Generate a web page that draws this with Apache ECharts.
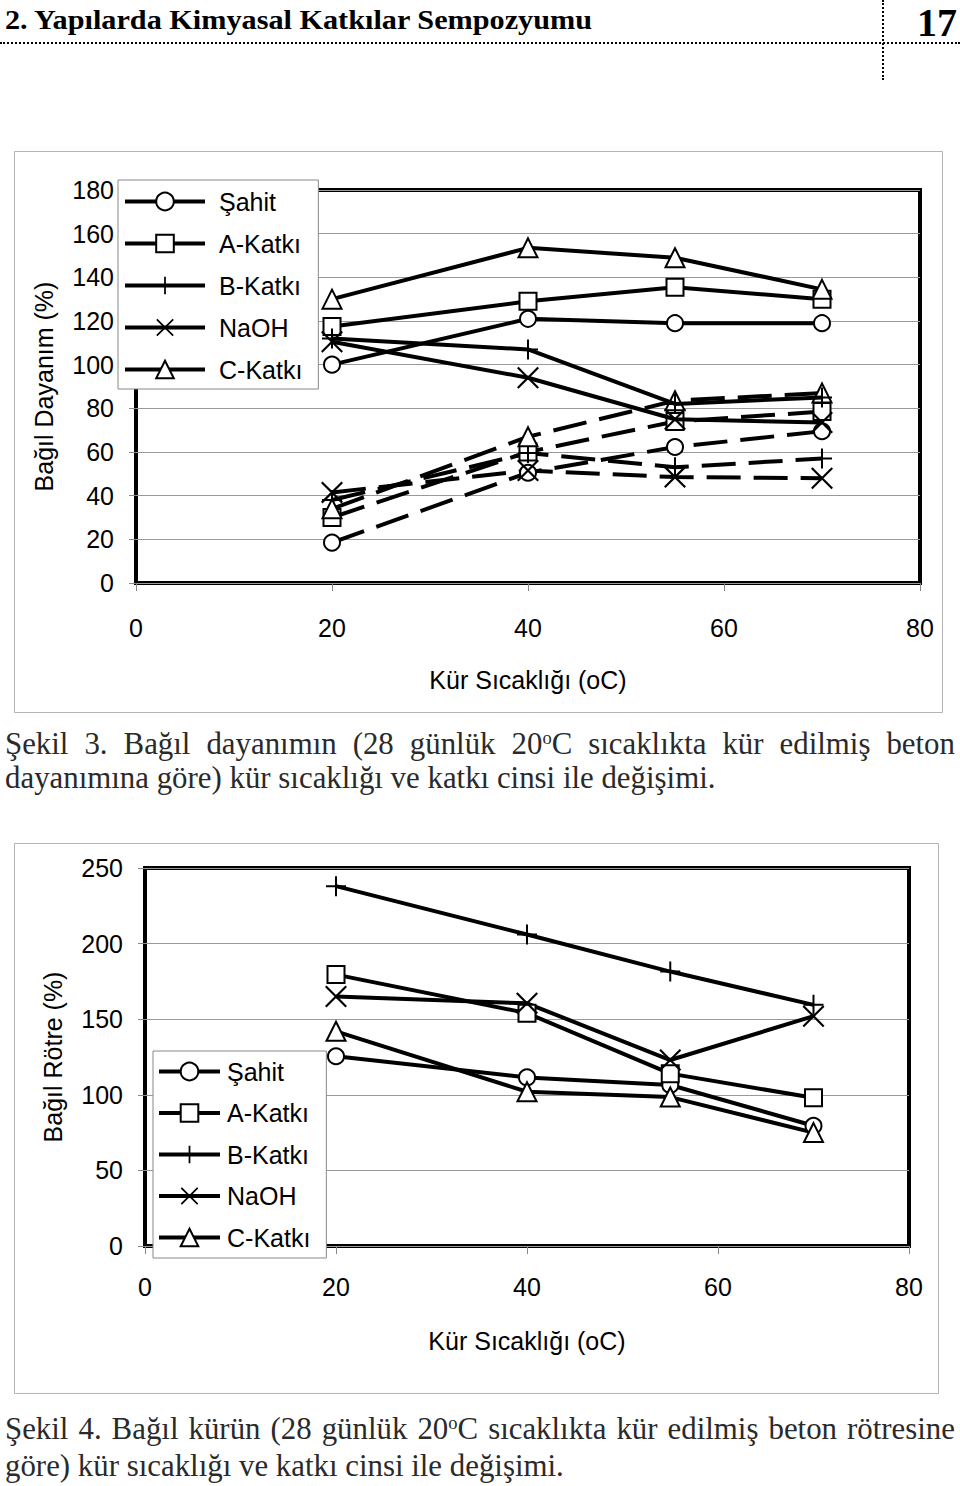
<!DOCTYPE html>
<html><head><meta charset="utf-8">
<script src="https://cdn.jsdelivr.net/npm/echarts/dist/echarts.min.js"></script>
<style>
html,body{margin:0;padding:0;background:#fff;}
#wrap{position:relative;width:960px;height:1486px;overflow:hidden;background:#fff;}
#chart{position:absolute;left:0;top:0;width:960px;height:1486px;}
.hdr{position:absolute;left:5px;top:6px;font-family:"Liberation Serif","DejaVu Serif",serif;font-weight:bold;font-size:28px;line-height:28px;white-space:nowrap;transform-origin:0 0;color:#000;}
.pg{position:absolute;right:3px;top:3px;font-family:"Liberation Serif","DejaVu Serif",serif;font-weight:bold;font-size:40px;line-height:40px;color:#000;}
.hdot{position:absolute;left:0;top:42px;width:960px;border-top:2px dotted #000;}
.vdot{position:absolute;left:882px;top:0;height:80px;border-left:2px dotted #000;}
.cap{position:absolute;left:5px;font-family:"Liberation Serif","DejaVu Serif",serif;color:#2a2a2a;}
.just{width:950px;text-align:justify;text-align-last:justify;}
.nat{white-space:nowrap;}
sup{font-size:0.6em;line-height:0;vertical-align:0.55em;}
</style>
</head>
<body>
<div id="wrap">
  <div id="chart"></div>
  <div class="hdr" id="hdr">2. Yapılarda Kimyasal Katkılar Sempozyumu</div>
  <div class="pg">17</div>
  <div class="hdot"></div>
  <div class="vdot"></div>
  <div class="cap just" id="c1a">Şekil 3. Bağıl dayanımın (28 günlük 20<sup>o</sup>C sıcaklıkta kür edilmiş beton</div>
  <div class="cap nat" id="c1b">dayanımına göre) kür sıcaklığı ve katkı cinsi ile değişimi.</div>
  <div class="cap just" id="c2a">Şekil 4. Bağıl kürün (28 günlük 20<sup>o</sup>C sıcaklıkta kür edilmiş beton rötresine</div>
  <div class="cap nat" id="c2b">göre) kür sıcaklığı ve katkı cinsi ile değişimi.</div>
</div>
<script>
// ---------- DATA ----------
const xTemps = [20, 40, 55, 70];
const seriesNames = ['Şahit', 'A-Katkı', 'B-Katkı', 'NaOH', 'C-Katkı'];
const xTicks = [0, 20, 40, 60, 80];
const fig3YTicks = [0, 20, 40, 60, 80, 100, 120, 140, 160, 180];
const fig4YTicks = [0, 50, 100, 150, 200, 250];

// Figure 3 - solid lines
const fig3SahitSolid = [100, 121, 119, 119];
const fig3AKatkiSolid = [117.5, 129, 135.5, 130];
const fig3BKatkiSolid = [112, 107, 82, 85];
const fig3NaohSolid = [110.5, 94, 75, 73.5];
const fig3CKatkiSolid = [130, 153.5, 149, 134.5];
// Figure 3 - dashed lines
const fig3SahitDashed = [18.5, 50.5, 62.3, 69.5];
const fig3AKatkiDashed = [30, 60, 74, 78.5];
const fig3BKatkiDashed = [38, 59.5, 53, 57];
const fig3NaohDashed = [41.5, 51.5, 48.5, 48];
const fig3CKatkiDashed = [34, 67, 83.5, 87];

// Figure 4
const fig4Sahit = [125.5, 111.5, 106.5, 79.5];
const fig4AKatki = [179.5, 154, 114, 98];
const fig4BKatki = [238, 206, 181.5, 159.5];
const fig4Naoh = [165, 160.5, 123, 152];
const fig4CKatki = [142, 102, 98.5, 75];

// ---------- STYLE ----------
const PLUS = 'path://M-1,-10L1,-10L1,10L-1,10Z M-10,-1L10,-1L10,1L-10,1Z';
const CROSS = 'path://M-10,-8.6L-8.6,-10L10,8.6L8.6,10Z M8.6,-10L10,-8.6L-8.6,10L-10,8.6Z';
const symbolDefs = [
  {symbol: 'circle', size: 16, hollow: true},
  {symbol: 'rect', size: 17, hollow: true},
  {symbol: PLUS, size: 20, hollow: false},
  {symbol: CROSS, size: 22, hollow: false},
  {symbol: 'triangle', size: 19, hollow: true}
];
const FONT = '"Liberation Sans", Arial, sans-serif';

function mkSeries(name, values, idx, gi, dashed) {
  const s = symbolDefs[idx];
  return {
    type: 'line', name: name, xAxisIndex: gi, yAxisIndex: gi,
    data: xTemps.map((x, i) => [x, values[i]]),
    symbol: s.symbol, symbolSize: s.size, showSymbol: true,
    lineStyle: {color: '#000', width: 4, type: dashed ? [34, 13] : 'solid'},
    itemStyle: s.hollow ? {color: '#fff', borderColor: '#000', borderWidth: 2}
                        : {color: '#000', borderColor: '#000', borderWidth: 0},
    emphasis: {disabled: true}, silent: true, z: dashed ? 2 : 3
  };
}

const fig3Solid = [fig3SahitSolid, fig3AKatkiSolid, fig3BKatkiSolid, fig3NaohSolid, fig3CKatkiSolid];
const fig3Dashed = [fig3SahitDashed, fig3AKatkiDashed, fig3BKatkiDashed, fig3NaohDashed, fig3CKatkiDashed];
const fig4 = [fig4Sahit, fig4AKatki, fig4BKatki, fig4Naoh, fig4CKatki];

const series = [];
seriesNames.forEach((n, i) => series.push(mkSeries(n, fig3Solid[i], i, 0, false)));
seriesNames.forEach((n, i) => series.push(mkSeries(n + ' (kesikli)', fig3Dashed[i], i, 0, true)));
seriesNames.forEach((n, i) => series.push(mkSeries(n, fig4[i], i, 1, false)));

function xAxisCfg(gi, labelMargin, nameGap) {
  return {
    gridIndex: gi, type: 'value', min: xTicks[0], max: xTicks[xTicks.length - 1],
    interval: xTicks[1] - xTicks[0],
    name: 'Kür Sıcaklığı (oC)', nameLocation: 'middle', nameGap: nameGap,
    nameTextStyle: {fontFamily: FONT, fontSize: 25, color: '#000', verticalAlign: 'top'},
    axisLine: {show: false},
    axisTick: {show: true, length: 8, lineStyle: {color: '#888', width: 1}},
    axisLabel: {fontFamily: FONT, fontSize: 25, color: '#000', margin: labelMargin, verticalAlign: 'top'},
    splitLine: {show: false}
  };
}
function yAxisCfg(gi, ticks, name) {
  return {
    gridIndex: gi, type: 'value', min: ticks[0], max: ticks[ticks.length - 1],
    interval: ticks[1] - ticks[0],
    name: name, nameLocation: 'middle', nameGap: 80, nameRotate: 90,
    nameTextStyle: {fontFamily: FONT, fontSize: 25, color: '#000'},
    axisLine: {show: false},
    axisTick: {show: true, length: 7, lineStyle: {color: '#888', width: 1}},
    axisLabel: {fontFamily: FONT, fontSize: 25, color: '#000', margin: 22},
    splitLine: {show: true, lineStyle: {color: '#999', width: 1}}
  };
}
function legendCfg(left, top, itemWidth, itemGap, padding, textPadLeft) {
  return {
    orient: 'vertical', left: left, top: top, data: seriesNames,
    itemWidth: itemWidth, itemHeight: 22, itemGap: itemGap, padding: padding,
    backgroundColor: '#fff', borderColor: '#888', borderWidth: 1,
    textStyle: {fontFamily: FONT, fontSize: 25, color: '#000', padding: [0, 0, 0, textPadLeft]},
    lineStyle: {width: 4}, selectedMode: false, z: 10
  };
}

const chart = echarts.init(document.getElementById('chart'), null, {renderer: 'svg', width: 960, height: 1486});
chart.setOption({
  animation: false,
  backgroundColor: 'transparent',
  graphic: [
    {type: 'rect', shape: {x: 14.5, y: 151.5, width: 928, height: 561}, style: {fill: 'none', stroke: '#b4b4b4', lineWidth: 1}, z: -10, silent: true},
    {type: 'rect', shape: {x: 14.5, y: 843.5, width: 924, height: 550}, style: {fill: 'none', stroke: '#b4b4b4', lineWidth: 1}, z: -10, silent: true}
  ],
  grid: [
    {left: 136, top: 190, width: 784, height: 393, show: true, borderColor: '#000', borderWidth: 4, backgroundColor: 'transparent', containLabel: false, outerBoundsMode: 'none'},
    {left: 145, top: 868, width: 764, height: 378, show: true, borderColor: '#000', borderWidth: 4, backgroundColor: 'transparent', containLabel: false, outerBoundsMode: 'none'}
  ],
  xAxis: [xAxisCfg(0, 32, 84), xAxisCfg(1, 28, 82)],
  yAxis: [yAxisCfg(0, fig3YTicks, 'Bağıl Dayanım (%)'), yAxisCfg(1, fig4YTicks, 'Bağıl Rötre (%)')],
  legend: [
    legendCfg(118, 180, 80, 17, [9, 16, 7, 5], 9),
    legendCfg(153, 1051, 61, 16.5, [8, 16, 8, 4], 2)
  ],
  tooltip: {show: false},
  series: series
});

// ---------- text fitting ----------
(function () {
  const hdr = document.getElementById('hdr');
  const hw = hdr.getBoundingClientRect().width;
  hdr.style.transform = 'scaleX(' + (587 / hw) + ')';

  // font size of captions from the width of the short lines
  const probe = document.createElement('span');
  probe.className = 'cap nat';
  probe.style.fontSize = '100px';
  probe.style.top = '-500px';
  document.getElementById('wrap').appendChild(probe);
  probe.textContent = document.getElementById('c1b').textContent;
  const w1 = probe.getBoundingClientRect().width;
  probe.textContent = document.getElementById('c2b').textContent;
  const w2 = probe.getBoundingClientRect().width;
  probe.remove();
  const fs = ((713 / w1) * 100 + (557 / w2) * 100) / 2;
  const place = (id, baseline) => {
    const el = document.getElementById(id);
    el.style.fontSize = fs + 'px';
    el.style.lineHeight = fs + 'px';
    el.style.top = (baseline - 0.8375 * fs) + 'px';
  };
  place('c1a', 755); place('c1b', 789);
  place('c2a', 1440); place('c2b', 1477);
})();
</script>
</body></html>
